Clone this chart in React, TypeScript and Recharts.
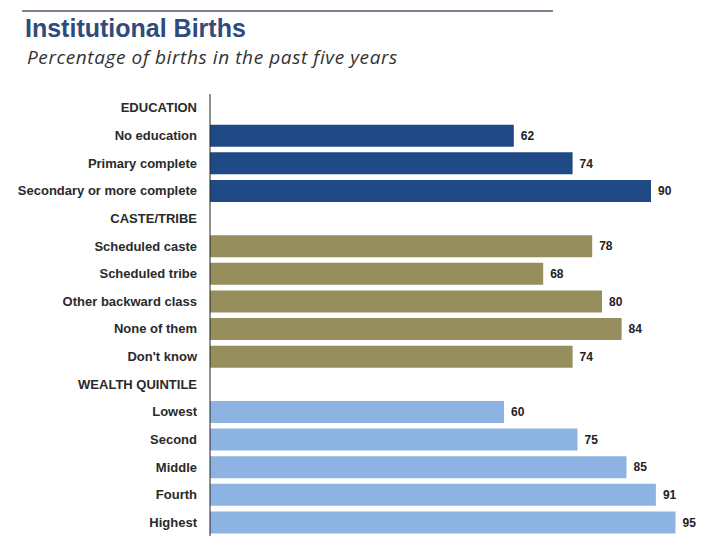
import { BarChart, Bar, XAxis, YAxis, Cell, LabelList } from 'recharts';

// rows top to bottom; group headers carry no value
const categories = [
  'EDUCATION',
  'No education',
  'Primary complete',
  'Secondary or more complete',
  'CASTE/TRIBE',
  'Scheduled caste',
  'Scheduled tribe',
  'Other backward class',
  'None of them',
  "Don't know",
  'WEALTH QUINTILE',
  'Lowest',
  'Second',
  'Middle',
  'Fourth',
  'Highest',
];
const values: (number | null)[] = [null, 62, 74, 90, null, 78, 68, 80, 84, 74, null, 60, 75, 85, 91, 95];
const groups = ['edu', 'edu', 'edu', 'edu', 'caste', 'caste', 'caste', 'caste', 'caste', 'caste', 'wealth', 'wealth', 'wealth', 'wealth', 'wealth', 'wealth'];

const groupColors: Record<string, string> = {
  edu: '#1f4a85',
  caste: '#978e5e',
  wealth: '#8db3e2',
};

const data = categories.map((name, i) => ({ name, value: values[i], group: groups[i] }));

export default function App() {
  return (
    <div
      style={{
        position: 'absolute',
        left: 0,
        top: 0,
        width: 722,
        height: 546,
        background: '#fff',
        fontFamily: '"Liberation Sans", Arial, sans-serif',
      }}
    >
      <div style={{ position: 'absolute', left: 22, top: 10, width: 531, height: 2, background: '#7c8494' }} />
      <div
        style={{
          position: 'absolute',
          left: 25,
          top: 13,
          fontSize: 25,
          fontWeight: 'bold',
          color: '#2f4b7c',
          lineHeight: '30px',
        }}
      >
        Institutional Births
      </div>
      <div
        style={{
          position: 'absolute',
          left: 27,
          top: 45,
          fontSize: 19,
          letterSpacing: 0.6,
          fontStyle: 'italic',
          color: '#333',
          lineHeight: '24px',
          fontFamily: '"Open Sans", sans-serif',
        }}
      >
        Percentage of births in the past five years
      </div>
      <BarChart
        width={722}
        height={546}
        data={data}
        layout="vertical"
        margin={{ top: 94, right: 22, bottom: 10, left: 0 }}
        barSize={22}
      >
        <XAxis type="number" domain={[0, 100]} hide />
        <YAxis
          type="category"
          dataKey="name"
          width={210}
          axisLine={{ stroke: '#222', strokeWidth: 1 }}
          tickLine={false}
          tickSize={0}
          tickMargin={13}
          interval={0}
          tick={{ fontSize: 13, fontWeight: 'bold', fill: '#2a2a2a' }}
        />
        <Bar dataKey="value" isAnimationActive={false}>
          {data.map((d, i) => (
            <Cell key={i} fill={groupColors[d.group]} />
          ))}
          <LabelList dataKey="value" position="right" offset={7} style={{ fontSize: 12, fontWeight: 'bold', fill: '#222' }} />
        </Bar>
      </BarChart>
    </div>
  );
}
